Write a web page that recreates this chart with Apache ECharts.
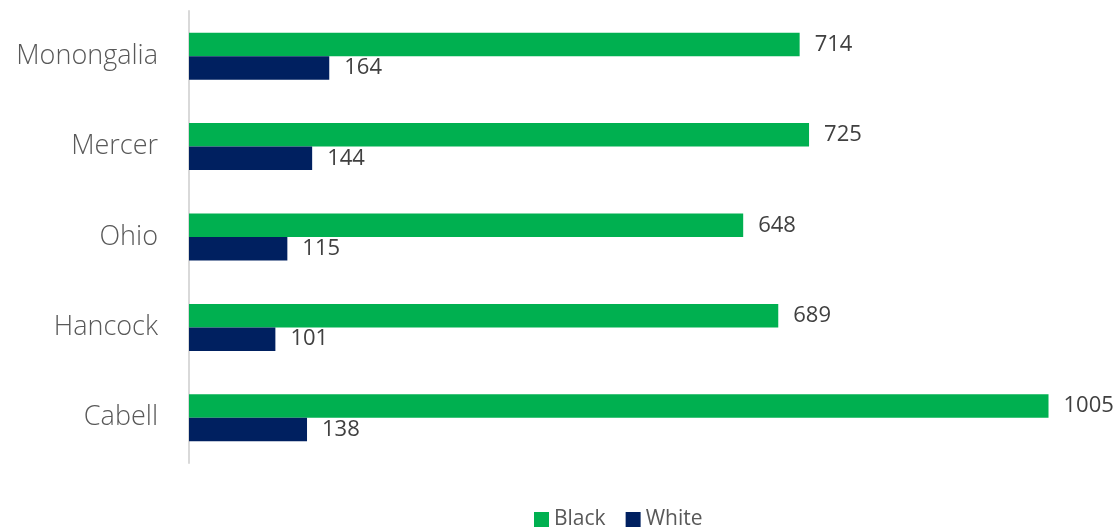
<!DOCTYPE html>
<html>
<head>
<meta charset="utf-8">
<script src="https://cdn.jsdelivr.net/npm/echarts@6/dist/echarts.min.js"></script>
<style>
  html, body { margin: 0; padding: 0; background: #ffffff; }
  #chart { width: 1119px; height: 527px; }
</style>
</head>
<body>
<div id="chart"></div>
<script>
// counties, top to bottom
var counties = ['Monongalia', 'Mercer', 'Ohio', 'Hancock', 'Cabell'];
var blackValues = [714, 725, 648, 689, 1005];
var whiteValues = [164, 144, 115, 101, 138];

var chart = echarts.init(document.getElementById('chart'), null, { renderer: 'canvas' });
var fontFamily = '"Open Sans", Lato, sans-serif';

var valueLabel = {
  show: true,
  position: 'right',
  distance: 15,
  color: '#404040',
  fontSize: 22,
  fontFamily: fontFamily
};

chart.setOption({
  animation: false,
  grid: { left: 189, right: 32, top: 11, bottom: 64 },
  legend: {
    left: 529,
    top: 504,
    itemWidth: 15,
    itemHeight: 15,
    itemGap: 20,
    icon: 'rect',
    textStyle: { color: '#595959', fontSize: 21, fontFamily: fontFamily },
    data: ['Black', 'White']
  },
  xAxis: {
    type: 'value',
    min: 0,
    max: 1050,
    show: false
  },
  yAxis: {
    type: 'category',
    inverse: true,
    data: counties,
    axisLine: { show: true, lineStyle: { color: '#d9d9d9', width: 2 } },
    axisTick: { show: false },
    axisLabel: {
      color: '#595959',
      fontSize: 27,
      fontWeight: 300,
      margin: 31,
      fontFamily: fontFamily
    }
  },
  series: [
    {
      name: 'Black',
      type: 'bar',
      data: blackValues,
      barCategoryGap: '48%',
      barGap: 0,
      itemStyle: { color: '#00b050' },
      label: valueLabel
    },
    {
      name: 'White',
      type: 'bar',
      data: whiteValues,
      barCategoryGap: '48%',
      barGap: 0,
      itemStyle: { color: '#002060' },
      label: valueLabel
    }
  ]
});
</script>
</body>
</html>
